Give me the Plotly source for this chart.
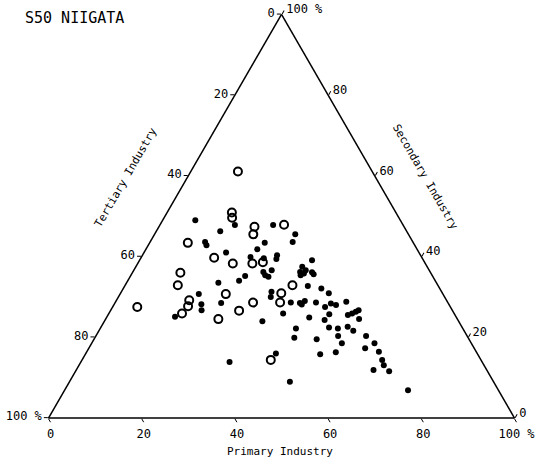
import plotly.graph_objects as go

# Shares (%)
filled_primary = [7.0, 16.1, 13.7, 24.3, 11.8, 12.5, 24.7, 17.6, 23.9, 23.4,
                  26.4, 30.2, 30.6, 28.9, 29.2, 37.0, 35.7, 36.9, 35.9, 38.5,
                  29.6, 19.7, 23.9, 24.6, 28.0, 16.9, 22.8, 18.7, 19.5, 14.6,
                  33.9, 31.9, 28.8, 29.7, 36.4, 36.9, 39.1, 39.3, 42.5, 44.7,
                  32.2, 32.7, 37.7, 39.7, 40.3, 40.5, 43.1, 46.4, 47.7, 45.6,
                  49.5, 37.4, 47.4, 43.5, 47.1, 51.5, 52.2, 52.8, 53.2, 54.4,
                  52.9, 54.6, 42.0, 49.0, 51.0, 42.8, 47.8, 52.0, 53.7, 58.0,
                  60.7, 59.3, 62.7, 50.4, 53.5, 64.4, 65.4, 63.8, 67.3, 40.8,
                  47.3, 73.7]
filled_secondary = [49.0, 47.8, 46.3, 47.8, 43.6, 42.8, 43.4, 41.0, 41.8, 39.9,
                    39.6, 45.5, 43.6, 40.3, 39.4, 39.1, 37.5, 36.6, 36.2, 36.1,
                    36.6, 33.5, 34.0, 35.2, 36.2, 30.7, 28.5, 28.2, 26.7, 25.1,
                    24.0, 13.9, 35.4, 35.0, 35.4, 35.8, 35.6, 32.7, 32.1, 30.9,
                    31.3, 30.0, 28.6, 28.5, 28.1, 29.0, 28.6, 28.4, 28.0, 27.5,
                    28.8, 25.9, 25.7, 24.9, 24.3, 25.5, 25.9, 26.3, 26.7, 24.5,
                    22.6, 21.6, 22.2, 22.4, 22.2, 19.9, 19.5, 20.3, 18.5, 20.3,
                    18.5, 17.3, 16.4, 15.8, 16.3, 14.4, 13.1, 11.9, 11.6, 16.0,
                    9.0, 6.9]
open_primary = [10.1, 13.9, 14.6, 20.5, 21.2, 26.6, 8.2, 15.7, 20.4, 24.6,
                10.3, 11.3, 5.3, 22.7, 15.6, 16.1, 15.7, 27.6, 29.6, 24.2,
                40.5, 35.9, 34.5, 35.4, 26.7]
open_secondary = [61.1, 50.9, 49.6, 47.4, 45.5, 47.9, 43.4, 39.7, 38.3, 38.3,
                  36.0, 32.9, 27.5, 30.7, 29.2, 27.7, 25.9, 26.6, 28.6, 24.5,
                  14.4, 32.9, 30.9, 28.6, 38.6]

filled_tertiary = [100 - p - s for p, s in zip(filled_primary, filled_secondary)]
open_tertiary = [100 - p - s for p, s in zip(open_primary, open_secondary)]

tick_vals = [0, 20, 40, 60, 80, 100]
tick_text = ["100 %", "80", "60", "40", "20", "0"]

FONT = "DejaVu Sans Mono"

fig = go.Figure()
# a = Secondary (top), b = Tertiary (bottom-left), c = Primary (bottom-right)
fig.add_trace(go.Scatterternary(
    a=filled_secondary, b=filled_tertiary, c=filled_primary,
    mode="markers",
    marker=dict(symbol="circle", size=6, color="black"),
    showlegend=False, hoverinfo="skip"))
fig.add_trace(go.Scatterternary(
    a=open_secondary, b=open_tertiary, c=open_primary,
    mode="markers",
    marker=dict(symbol="circle-open", size=8, color="black",
                line=dict(width=2, color="black")),
    showlegend=False, hoverinfo="skip"))

axis_common = dict(
    showgrid=False, linecolor="black", linewidth=1.5,
    ticks="outside", ticklen=4, tickcolor="black", tickwidth=1,
    tickmode="array", tickvals=tick_vals,
    tickfont=dict(family=FONT, size=12, color="black"),
    showline=True, title=dict(text=""),
)

W, H = 556, 462
side = 466
cx = 281.5
bottom = 418
x0, x1 = cx - side / 2, cx + side / 2
height_tri = side * 3 ** 0.5 / 2
top = bottom - height_tri

fig.update_layout(
    width=W, height=H,
    margin=dict(l=0, r=0, t=0, b=0),
    paper_bgcolor="white",
    ternary=dict(
        sum=100,
        bgcolor="white",
        domain=dict(x=[x0 / W, x1 / W], y=[(H - bottom) / H, (H - top) / H]),
        aaxis=dict(axis_common, ticktext=tick_text),
        baxis=dict(axis_common, ticktext=tick_text),
        caxis=dict(axis_common, ticktext=tick_text),
    ),
    annotations=[
        dict(text="S50 NIIGATA", x=23 / W, y=1 - 18 / H, xref="paper", yref="paper",
             xanchor="left", yanchor="middle", showarrow=False,
             font=dict(family=FONT, size=15, color="black")),
        dict(text="Primary Industry", x=280 / W, y=1 - 451 / H, xref="paper", yref="paper",
             xanchor="center", yanchor="middle", showarrow=False,
             font=dict(family=FONT, size=11, color="black")),
        dict(text="Tertiary Industry", x=126 / W, y=1 - 178 / H, xref="paper", yref="paper",
             xanchor="center", yanchor="middle", showarrow=False, textangle=-60,
             font=dict(family=FONT, size=11, color="black")),
        dict(text="Secondary Industry", x=426 / W, y=1 - 177 / H, xref="paper", yref="paper",
             xanchor="center", yanchor="middle", showarrow=False, textangle=60,
             font=dict(family=FONT, size=11, color="black")),
    ],
)

fig.write_html("out.html")
